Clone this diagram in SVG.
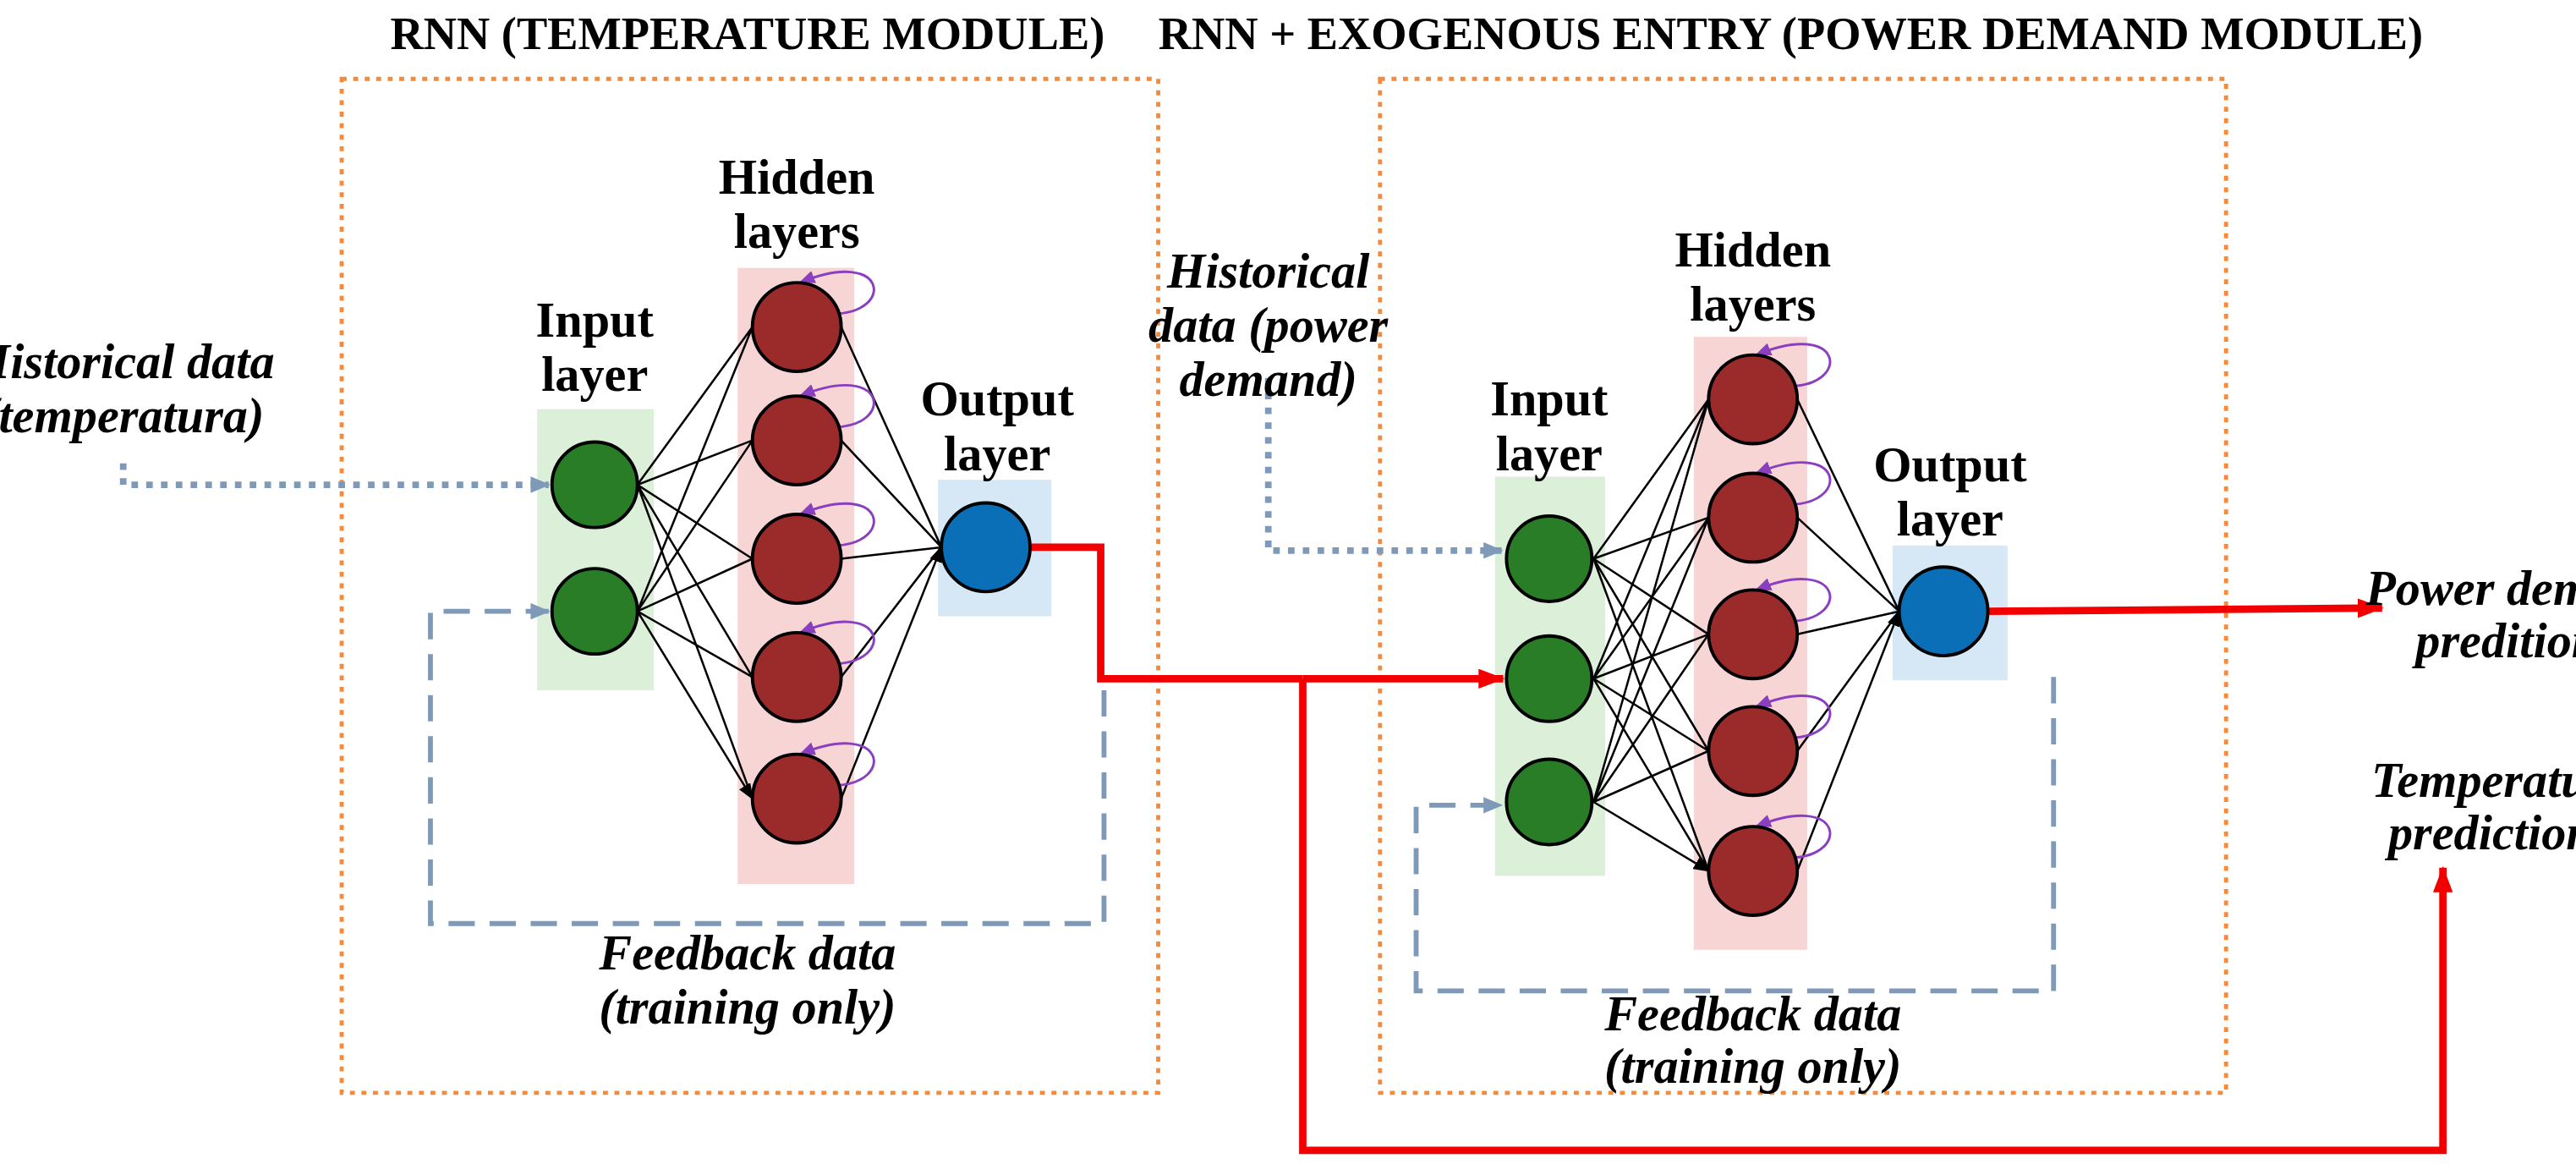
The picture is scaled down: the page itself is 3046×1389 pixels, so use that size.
<svg xmlns="http://www.w3.org/2000/svg" width="3046" height="1389" viewBox="0 0 3046 1389">
<style>
text{font-family:"Liberation Serif","Times New Roman",serif;font-size:30px;text-anchor:middle;fill:#000}
.b{font-weight:bold}.i{font-style:italic;font-weight:bold}
.t{font-size:28px;font-weight:bold}
.mod{fill:none;stroke:#f58a3a;stroke-width:2.5;stroke-dasharray:3 4}
.w{stroke:#000;stroke-width:1.3;fill:none;marker-end:url(#ab)}
.g{fill:#2a7d27;stroke:#000;stroke-width:2}
.r{fill:#9b2b2b;stroke:#000;stroke-width:2}
.u{fill:#0b6fb8;stroke:#000;stroke-width:2}
.lp{fill:none;stroke:#8a3fc0;stroke-width:1.5;marker-end:url(#ap)}
.dot{fill:none;stroke:#7f9ab8;stroke-width:4;stroke-dasharray:4 5;marker-end:url(#ag)}
.dsh{fill:none;stroke:#7f9ab8;stroke-width:3;stroke-dasharray:16 9;marker-end:url(#ag)}
.red{fill:none;stroke:#f20000;stroke-width:4.5}
</style>
<defs>
<marker id="ab" markerWidth="10" markerHeight="8" refX="9" refY="4" orient="auto" markerUnits="userSpaceOnUse"><path d="M0,0L10,4L0,8z" fill="#000"/></marker>
<marker id="ap" markerWidth="10" markerHeight="8" refX="9" refY="4" orient="auto" markerUnits="userSpaceOnUse"><path d="M0,0L10,4L0,8z" fill="#8a3fc0"/></marker>
<marker id="ag" markerWidth="12" markerHeight="10" refX="11" refY="5" orient="auto" markerUnits="userSpaceOnUse"><path d="M0,0L12,5L0,10z" fill="#7f9ab8"/></marker>
<marker id="ar" markerWidth="16" markerHeight="12" refX="15" refY="6" orient="auto" markerUnits="userSpaceOnUse"><path d="M0,0L16,6L0,12z" fill="#f20000"/></marker>
</defs>
<rect width="3046" height="1389" fill="#fff"/>
<g transform="scale(1.9426)">
<text class="t" x="455" y="30">RNN (TEMPERATURE MODULE)</text>
<text class="t" x="1090" y="30">RNN + EXOGENOUS ENTRY (POWER DEMAND MODULE)</text>
<g id="module1"><rect class="mod" x="208" y="48" width="497" height="617"/></g>
<g id="module2"><rect class="mod" x="840" y="48" width="515" height="617"/></g>
<g id="bands">
<rect x="327" y="249" width="71" height="171" fill="#dcefd8"/>
<rect x="449" y="163" width="71" height="375" fill="#f7d5d5"/>
<rect x="571" y="292" width="69" height="83" fill="#d6e8f6"/>
<rect x="910" y="290" width="67" height="243" fill="#dcefd8"/>
<rect x="1031" y="205" width="69" height="373" fill="#f7d5d5"/>
<rect x="1152" y="332" width="70" height="82" fill="#d6e8f6"/>
</g>
<g id="connectors">
<path class="w" d="M388,295L458,199M388,295L458,268M388,295L458,340M388,295L458,412M388,295L458,486M388,372L458,199M388,372L458,268M388,372L458,340M388,372L458,412M388,372L458,486"/>
<path class="w" d="M512,199L573,333M512,268L573,333M512,340L573,333M512,412L573,333M512,486L573,333"/>
<path class="w" d="M970,340L1040,243M970,340L1040,315M970,340L1040,386M970,340L1040,457M970,340L1040,530M970,413L1040,243M970,413L1040,315M970,413L1040,386M970,413L1040,457M970,413L1040,530M970,488L1040,243M970,488L1040,315M970,488L1040,386M970,488L1040,457M970,488L1040,530"/>
<path class="w" d="M1094,243L1156,372M1094,315L1156,372M1094,386L1156,372M1094,457L1156,372M1094,530L1156,372"/>
<path class="lp" d="M508,191C545,190 540,150 487,172"/>
<path class="lp" d="M508,260C545,259 540,219 487,241"/>
<path class="lp" d="M508,332C545,331 540,291 487,313"/>
<path class="lp" d="M508,404C545,403 540,363 487,385"/>
<path class="lp" d="M508,478C545,477 540,437 487,459"/>
<path class="lp" d="M1090,235C1127,234 1122,194 1069,216"/>
<path class="lp" d="M1090,307C1127,306 1122,266 1069,288"/>
<path class="lp" d="M1090,378C1127,377 1122,337 1069,359"/>
<path class="lp" d="M1090,449C1127,448 1122,408 1069,430"/>
<path class="lp" d="M1090,522C1127,521 1122,481 1069,503"/>
<path class="dot" d="M75,282V295H334"/>
<path class="dot" d="M772,230V335H914"/>
<path class="dsh" d="M672,420V562H262V372H334"/>
<path class="dsh" d="M1250,412V603H862V490H914"/>
<path class="red" d="M627,333H670V413H793"/>
<path class="red" marker-end="url(#ar)" d="M793,413H915"/>
<path class="red" marker-end="url(#ar)" d="M793,413V700H1487V528"/>
<path class="red" marker-end="url(#ar)" d="M1210,372L1450,370"/>
</g>
<g id="nodes">
<circle class="g" cx="362" cy="295" r="26"/><circle class="g" cx="362" cy="372" r="26"/>
<circle class="r" cx="485" cy="199" r="27"/><circle class="r" cx="485" cy="268" r="27"/><circle class="r" cx="485" cy="340" r="27"/><circle class="r" cx="485" cy="412" r="27"/><circle class="r" cx="485" cy="486" r="27"/>
<circle class="u" cx="600" cy="333" r="27"/>
<circle class="g" cx="943" cy="340" r="26"/><circle class="g" cx="943" cy="413" r="26"/><circle class="g" cx="943" cy="488" r="26"/>
<circle class="r" cx="1067" cy="243" r="27"/><circle class="r" cx="1067" cy="315" r="27"/><circle class="r" cx="1067" cy="386" r="27"/><circle class="r" cx="1067" cy="457" r="27"/><circle class="r" cx="1067" cy="530" r="27"/>
<circle class="u" cx="1183" cy="372" r="27"/>
</g>
<g id="labels">
<text class="b" x="362" y="205">Input</text><text class="b" x="362" y="238">layer</text>
<text class="b" x="485" y="118">Hidden</text><text class="b" x="485" y="151">layers</text>
<text class="b" x="607" y="253">Output</text><text class="b" x="607" y="286">layer</text>
<text class="b" x="943" y="253">Input</text><text class="b" x="943" y="286">layer</text>
<text class="b" x="1067" y="162">Hidden</text><text class="b" x="1067" y="195">layers</text>
<text class="b" x="1187" y="293">Output</text><text class="b" x="1187" y="326">layer</text>
<text class="i" x="75" y="230">Historical data</text><text class="i" x="75" y="263">(temperatura)</text>
<text class="i" x="772" y="175">Historical</text><text class="i" x="772" y="208">data (power</text><text class="i" x="772" y="241">demand)</text>
<text class="i" x="455" y="590">Feedback data</text><text class="i" x="455" y="623">(training only)</text>
<text class="i" x="1067" y="627">Feedback data</text><text class="i" x="1067" y="659">(training only)</text>
<text class="i" x="1532" y="368">Power demand</text><text class="i" x="1532" y="400">preditions</text>
<text class="i" x="1522" y="485">Temperature</text><text class="i" x="1522" y="517">predictions</text>
</g>
</g>
</svg>
